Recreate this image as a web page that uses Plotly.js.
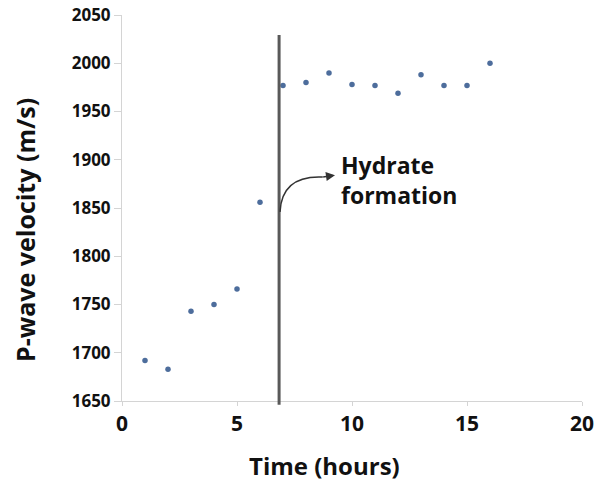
<!DOCTYPE html>
<html>
<head>
<meta charset="utf-8">
<script src="https://cdn.plot.ly/plotly-3.0.1.min.js"></script>
<style>html,body{margin:0;padding:0;background:#fff;}#chart{width:596px;height:484px;}</style>
</head>
<body>
<div id="chart"></div>
<script>
// Data
var timeHours = [1, 2, 3, 4, 5, 6, 7, 8, 9, 10, 11, 12, 13, 14, 15, 16];
var pWaveVelocity = [1692, 1683, 1743, 1750, 1766, 1856, 1977, 1980, 1990, 1978, 1977, 1969, 1988, 1977, 1977, 2000];
var hydrateTime = [6.83];
var annotationText = ['Hydrate<br>formation'];
var xTitle = 'Time (hours)';
var yTitle = 'P-wave velocity (m/s)';
var xTickVals = [0, 5, 10, 15, 20];
var yTickVals = [1650, 1700, 1750, 1800, 1850, 1900, 1950, 2000, 2050];

var FONT = 'Open Sans, Arial, sans-serif';
var hx = hydrateTime[0];

var trace = {
  x: timeHours,
  y: pWaveVelocity,
  type: 'scatter',
  mode: 'markers',
  marker: {color: '#4d6d9c', size: 5.5},
  showlegend: false,
  hoverinfo: 'x+y'
};

var layout = {
  width: 596,
  height: 484,
  margin: {l: 122, r: 14, t: 15, b: 83},
  paper_bgcolor: '#ffffff',
  plot_bgcolor: '#ffffff',
  font: {family: FONT, color: '#111111'},
  xaxis: {
    range: [0, 20],
    tickvals: xTickVals,
    ticktext: xTickVals.map(String),
    showgrid: false,
    zeroline: false,
    showline: true,
    linecolor: '#d4d4d4',
    linewidth: 1,
    ticks: 'outside',
    ticklen: 4,
    tickcolor: '#d4d4d4',
    tickfont: {family: FONT, size: 21, weight: 'bold', color: '#111111'}
  },
  yaxis: {
    range: [1650, 2050],
    tickvals: yTickVals,
    ticktext: yTickVals.map(String),
    showgrid: false,
    zeroline: false,
    showline: true,
    linecolor: '#d4d4d4',
    linewidth: 1,
    ticks: 'outside',
    ticklen: 7,
    tickcolor: '#d4d4d4',
    tickfont: {family: FONT, size: 17, weight: 'bold', color: '#111111'}
  },
  shapes: [
    {type: 'line', xref: 'x', yref: 'paper', x0: hx, x1: hx, y0: -0.01, y1: 0.948,
     line: {color: '#595959', width: 3}},
    {type: 'path', xref: 'x', yref: 'y',
     path: 'M ' + (hx + 0.04) + ',1846 Q ' + (hx + 0.12) + ',1884 ' + (hx + 1.9) + ',1882',
     line: {color: '#333333', width: 1.5}}
  ],
  annotations: [
    {x: hx + 2.43, y: 1884, ax: hx + 1.85, ay: 1882, xref: 'x', yref: 'y', axref: 'x', ayref: 'y',
     showarrow: true, arrowhead: 2, arrowsize: 1.2, arrowwidth: 1.5, arrowcolor: '#333333', text: ''},
    {x: hx + 2.62, y: 1879, xref: 'x', yref: 'y', xanchor: 'left', yanchor: 'middle', align: 'left',
     showarrow: false, text: annotationText[0],
     font: {family: FONT, size: 23, weight: 'bold', color: '#111111'}},
    {x: 0.441, y: -0.168, xref: 'paper', yref: 'paper', xanchor: 'center', yanchor: 'middle',
     showarrow: false, text: xTitle,
     font: {family: FONT, size: 24, weight: 'bold', color: '#111111'}},
    {x: -0.211, y: 0.443, xref: 'paper', yref: 'paper', xanchor: 'center', yanchor: 'middle',
     textangle: -90, showarrow: false, text: yTitle,
     font: {family: FONT, size: 25, weight: 'bold', color: '#111111'}}
  ]
};

Plotly.newPlot('chart', [trace], layout, {displayModeBar: false, staticPlot: true});
</script>
</body>
</html>
